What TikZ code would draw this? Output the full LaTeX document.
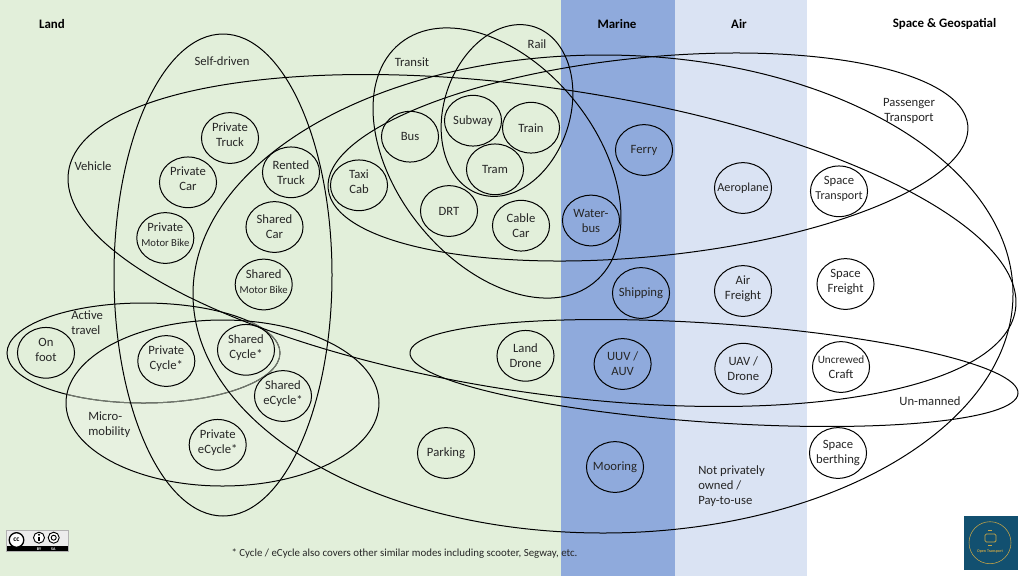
\documentclass[tikz,border=0pt]{standalone}
\usepackage{fontspec}
\setmainfont{Carlito}
\usetikzlibrary{shapes.geometric}
\definecolor{landgreen}{RGB}{226,239,218}
\definecolor{marineblue}{RGB}{143,170,220}
\definecolor{airblue}{RGB}{218,227,243}
\definecolor{logoblue}{RGB}{18,80,112}
\definecolor{logogold}{RGB}{200,165,70}
\newcommand{\smallwordfont}{\fontsize{8}{10.6}\selectfont}
\tikzset{
  mode/.style={draw=black, ellipse, inner xsep=-30pt, inner ysep=-20pt, minimum width=42.8pt, minimum height=38pt, align=center, line width=0.75pt, font=\fontsize{9.5}{11.25}\selectfont, text=black!85},
  modeup/.style={mode, text depth=5pt},
  setlabel/.style={inner sep=0pt, align=center, font=\fontsize{9.5}{11.25}\selectfont, text=black!85},
  setlabell/.style={setlabel, align=left},
  domainlabel/.style={inner sep=0pt, font=\fontsize{9.7}{11.25}\selectfont\bfseries},
  setline/.style={draw=black, line width=0.75pt}
}
\begin{document}
\begin{tikzpicture}[x=0.75pt,y=0.75pt,yscale=-1]
    \useasboundingbox (0,0) rectangle (1024,576);

    % Domains
    \fill [landgreen] (0,0) rectangle (561,576);
    \fill [marineblue] (561,0) rectangle (675,576);
    \fill [airblue] (675,0) rectangle (807,576);
    \fill [white] (807,0) rectangle (1024,576);

    % Active travel goes under micro-mobility
    \draw [setline] (143.5,353) circle [x radius=136.5, y radius=50];
    \path [fill=white, fill opacity=0.18] (222.5,403) circle [x radius=156.5, y radius=83];
    \begin{scope}
      \clip (222.5,403) circle [x radius=156.5, y radius=83];
      \draw [setline, draw=black!50!landgreen] (143.5,353) circle [x radius=136.5, y radius=50];
    \end{scope}
    \draw [setline] (222.5,403) circle [x radius=156.5, y radius=83];

    % Sets
    \draw [setline] (223,275) circle [x radius=109, y radius=241];
    \draw [setline] (603,294) circle [x radius=410, y radius=239];
    \draw [setline] (542,240.5) circle [x radius=478.5, y radius=152.5, rotate=8.3];
    \draw [setline] (648,157) circle [x radius=321.4, y radius=99.5, rotate=-5.68];
    \draw [setline] (497,163) circle [x radius=154, y radius=99.5, rotate=51];
    \draw [setline] (507,110.5) circle [x radius=88, y radius=63, rotate=-71.8];
    \draw [setline] (714,373) circle [x radius=304.7, y radius=49.5, rotate=3.86];

    % Domain labels
    \node (lblLand) [domainlabel] at (52,24) {Land};
    \node (lblMarine) [domainlabel] at (617,24) {Marine};
    \node (lblAir) [domainlabel] at (739,24) {Air};
    \node (lblSpace) [domainlabel] at (944.5,24) {Space \& Geospatial};

    % Set labels
    \node (lblSelf) [setlabel] at (222,61) {Self-driven};
    \node (lblVehicle) [setlabel] at (93,166) {Vehicle};
    \node (lblTransit) [setlabel] at (412,62) {Transit};
    \node (lblRail) [setlabel] at (537,44) {Rail};
    \node (lblPassenger) [setlabel] at (909,110.5) {Passenger\\Transport};
    \node (lblActive) [setlabell, anchor=west] at (71,323) {Active\\travel};
    \node (lblMicro) [setlabell, anchor=west] at (88,425) {Micro-\\mobility};
    \node (lblUnmanned) [setlabel] at (930,401) {Un-manned};
    \node (lblPay) [setlabell, anchor=west] at (698,486) {Not privately\\owned /\\Pay-to-use};

    % Land modes
    \node (privTruck) [modeup] at (230,138) {Private\\Truck};
    \node (privCar) [modeup] at (188,182.3) {Private\\Car};
    \node (rentTruck) [mode] at (291,172.3) {Rented\\Truck};
    \node (privBike) [modeup] at (165.3,238) {Private\\{\smallwordfont Motor Bike}};
    \node (shCar) [mode] at (274.5,227) {Shared\\Car};
    \node (shBike) [modeup] at (263.7,284.5) {Shared\\{\smallwordfont Motor Bike}};
    \node (onFoot) [modeup] at (46,352.8) {On\\foot};
    \node (privCycle) [modeup] at (166.3,361) {Private\\Cycle*};
    \node (shCycle) [modeup] at (246,349.8) {Shared\\Cycle*};
    \node (shECycle) [modeup] at (283,396) {Shared\\eCycle*};
    \node (privECycle) [modeup] at (217.7,444.8) {Private\\eCycle*};
    \node (taxi) [modeup] at (359,185.3) {Taxi\\Cab};
    \node (bus) [mode] at (410,136.7) {Bus};
    \node (subway) [mode] at (473,120.7) {Subway};
    \node (train) [mode] at (531,127.7) {Train};
    \node (tram) [mode] at (495,169.3) {Tram};
    \node (drt) [mode] at (449,211) {DRT};
    \node (cable) [mode] at (521,225.7) {Cable\\Car};
    \node (landDrone) [mode] at (525.5,355.8) {Land\\Drone};
    \node (parking) [mode] at (446,453) {Parking};

    % Marine modes
    \node (waterbus) [mode] at (591,220.5) {Water-\\bus};
    \node (ferry) [mode] at (644,150) {Ferry};
    \node (shipping) [mode] at (641,293) {Shipping};
    \node (uuv) [mode] at (622.6,364) {UUV /\\AUV};
    \node (mooring) [mode] at (615,467) {Mooring};

    % Air modes
    \node (aeroplane) [mode] at (743,188) {{\fontsize{9.2}{11.25}\selectfont Aeroplane}};
    \node (airFreight) [modeup] at (743,291) {Air\\Freight};
    \node (uav) [mode] at (743.3,368.7) {UAV /\\Drone};

    % Space modes
    \node (spTransport) [modeup] at (839,191.3) {Space\\{\fontsize{9.1}{11.25}\selectfont Transport}};
    \node (spFreight) [modeup] at (845.5,284) {Space\\Freight};
    \node (uncrewed) [mode] at (841,367) {{\fontsize{8.4}{11.25}\selectfont Uncrewed}\\Craft};
    \node (berthing) [mode] at (838,453) {Space\\berthing};

    % Footnote
    \node (lblNote) [inner sep=0pt, font=\fontsize{8.15}{10}\selectfont, text=black!85] at (404.5,553.5) {* Cycle / eCycle also covers other similar modes including scooter, Segway, etc.};

    % Licence badge
    \fill [gray!60] (6,530) rectangle (69,552);
    \fill [gray!15] (7,531) rectangle (68,551);
    \fill [black] (7,546) rectangle (68,551);
    \draw [black, fill=white, line width=1pt] (16.5,540) circle [radius=7.3];
    \node (badgeCc) [inner sep=0pt, font=\fontsize{5.5}{6}\selectfont\bfseries] at (16.5,540) {cc};
    \draw [black, fill=white, line width=0.7pt] (39,537.7) circle [radius=5.5];
    \draw [black, fill=white, line width=0.7pt] (53.7,537.7) circle [radius=5.5];
    \fill [black] (39,534.7) circle [radius=1.2];
    \fill [black] (37.8,536.5) rectangle (40.2,541.2);
    \draw [black, line width=0.7pt] (53.7,537.7) circle [radius=2.5];
    \node (badgeBy) [inner sep=0pt, text=white, font=\fontsize{3}{3}\selectfont\bfseries] at (39,548.7) {BY};
    \node (badgeSa) [inner sep=0pt, text=white, font=\fontsize{3}{3}\selectfont\bfseries] at (53.3,548.7) {SA};

    % Logo
    \fill [logoblue] (964,516) rectangle (1018,570);
    \draw [logogold, line width=0.4pt] (990,542.7) circle [radius=21];
    \draw [logogold, line width=0.7pt] (988,530) -- (992,530);
    \draw [logogold, line width=0.7pt] (988,545) -- (992,545);
    \draw [logogold, line width=0.6pt, rounded corners=1pt] (985,542) rectangle (996,534);
    \node (logoText) [inner sep=0pt, text=logogold, font=\fontsize{3}{3}\selectfont\bfseries] at (990,551) {Open Transport};
\end{tikzpicture}
\end{document}
